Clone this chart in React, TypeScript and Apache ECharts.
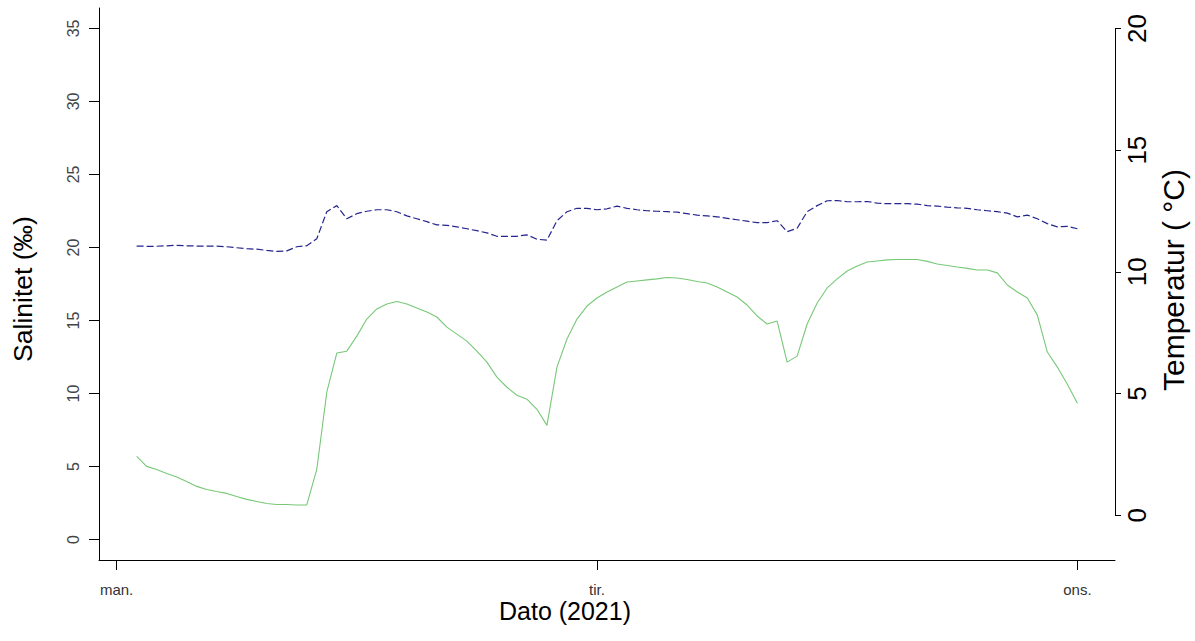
import React, { useEffect, useRef } from "react";
import * as echarts from "echarts";

// Time in hours since Monday 00:00 (half-hourly readings)
const timeHours = [
  1, 1.5, 2, 2.5, 3, 3.5, 4, 4.5, 5, 5.5, 6, 6.5, 7, 7.5, 8, 8.5, 9, 9.5, 10, 10.5,
  11, 11.5, 12, 12.5, 13, 13.5, 14, 14.5, 15, 15.5, 16, 16.5, 17, 17.5, 18, 18.5, 19, 19.5, 20, 20.5,
  21, 21.5, 22, 22.5, 23, 23.5, 24, 24.5, 25, 25.5, 26, 26.5, 27, 27.5, 28, 28.5, 29, 29.5, 30, 30.5,
  31, 31.5, 32, 32.5, 33, 33.5, 34, 34.5, 35, 35.5, 36, 36.5, 37, 37.5, 38, 38.5, 39, 39.5, 40, 40.5,
  41, 41.5, 42, 42.5, 43, 43.5, 44, 44.5, 45, 45.5, 46, 46.5, 47, 47.5, 48,
];

// Salinity (‰), left axis
const salinity = [
  5.7, 5.01, 4.8, 4.53, 4.29, 3.98, 3.64, 3.43, 3.29, 3.16, 2.95, 2.75, 2.61, 2.47, 2.4, 2.4, 2.37, 2.37,
  4.8, 10.09, 12.77, 12.9, 13.93, 15.1, 15.79, 16.13, 16.3, 16.13, 15.85, 15.58, 15.24, 14.55, 14.07, 13.59,
  12.9, 12.15, 11.12, 10.43, 9.88, 9.61, 8.92, 7.82,
  11.81, 13.73, 15.1, 15.99, 16.54, 16.95, 17.3, 17.64, 17.71, 17.78, 17.85, 17.95, 17.91, 17.81, 17.67,
  17.57, 17.3, 16.95, 16.61, 16.06, 15.31, 14.76, 14.96, 12.15,
  12.56, 14.76, 16.2, 17.23, 17.85, 18.39, 18.74, 19.01, 19.08, 19.15, 19.18, 19.18, 19.18, 19.05, 18.87,
  18.77, 18.66, 18.57, 18.46, 18.46, 18.26, 17.43, 16.95, 16.54, 15.37, 12.84, 11.81, 10.64, 9.33,
];

// Temperature (°C), right axis
const temperature = [
  11.06, 11.05, 11.05, 11.07, 11.09, 11.07, 11.06, 11.06, 11.06, 11.03, 10.99, 10.95, 10.93, 10.88, 10.84,
  10.86, 11.03, 11.07,
  11.36, 12.47, 12.72, 12.18, 12.39, 12.49, 12.55, 12.55, 12.47, 12.3, 12.18, 12.06, 11.93, 11.91, 11.85,
  11.77, 11.69, 11.6, 11.46, 11.46, 11.46, 11.52, 11.34, 11.3,
  12.1, 12.47, 12.61, 12.61, 12.55, 12.59, 12.7, 12.61, 12.55, 12.51, 12.49, 12.47, 12.45, 12.39, 12.33,
  12.3, 12.26, 12.2, 12.14, 12.08, 12.02, 12.02, 12.1, 11.65,
  11.79, 12.47, 12.72, 12.92, 12.93, 12.88, 12.88, 12.89, 12.82, 12.8, 12.8, 12.8, 12.78, 12.72, 12.7,
  12.66, 12.63, 12.61, 12.55, 12.51, 12.47, 12.41, 12.26, 12.33, 12.18, 11.98, 11.85, 11.87, 11.77,
];

const dayTicks = [0, 24, 48];
const dayLabels = ["man.", "tir.", "ons."];
const salTicks = [0, 5, 10, 15, 20, 25, 30, 35];
const tempTicks = [0, 5, 10, 15, 20];

const FONT = "'Liberation Sans', Arial, sans-serif";

export default function App() {
  const ref = useRef<HTMLDivElement>(null);
  useEffect(() => {
    document.body.style.margin = "0";
    if (!ref.current) return;
    const chart = echarts.init(ref.current, null, { renderer: "svg" });
    const salData = timeHours.map((t, i) => [t, salinity[i]]);
    const tempData = timeHours.map((t, i) => [t, temperature[i]]);
    const xMin = -0.88;
    const xMax = 49.88;
    chart.setOption({
      animation: false,
      backgroundColor: "#ffffff",
      textStyle: { fontFamily: FONT },
      grid: { left: 99, right: 80, top: 8, bottom: 81, containLabel: false },
      xAxis: {
        type: "value",
        min: xMin,
        max: xMax,
        axisLine: { show: true, onZero: false, lineStyle: { color: "#000", width: 1 } },
        axisTick: { show: true, inside: false, length: 10, customValues: dayTicks, lineStyle: { color: "#000" } },
        axisLabel: {
          customValues: dayTicks,
          formatter: (v: number) => dayLabels[dayTicks.indexOf(Math.round(v))] ?? "",
          color: "#333",
          fontSize: 15,
          lineHeight: 15,
          fontFamily: FONT,
          margin: 22,
        },
        splitLine: { show: false },
      },
      yAxis: [
        {
          type: "value",
          min: -1.4,
          max: 36.4,
          position: "left",
          axisLine: { show: true, onZero: false, lineStyle: { color: "#000", width: 1 } },
          axisTick: { show: true, inside: false, length: 10, customValues: salTicks, lineStyle: { color: "#000" } },
          axisLabel: {
            customValues: salTicks,
            rotate: 90,
            align: "center",
            verticalAlign: "bottom",
            color: "#444",
            fontSize: 16,
            fontFamily: FONT,
            margin: 18,
          },
          splitLine: { show: false },
        },
        {
          type: "value",
          min: -1.84,
          max: 20.84,
          position: "right",
          axisLine: { show: true, onZero: false, lineStyle: { color: "rgba(0,0,0,0)", width: 1 } },
          axisTick: { show: true, inside: false, length: 6, customValues: tempTicks, lineStyle: { color: "#000" } },
          axisLabel: {
            customValues: tempTicks,
            rotate: 90,
            align: "center",
            verticalAlign: "top",
            color: "#000",
            fontSize: 26,
            fontFamily: FONT,
            margin: 9,
          },
          splitLine: { show: false },
        },
      ],
      graphic: [
        {
          type: "text",
          x: 565,
          y: 611,
          style: {
            text: "Dato (2021)",
            fontSize: 25,
            lineHeight: 22,
            fontFamily: FONT,
            fill: "#000",
            align: "center",
            verticalAlign: "middle",
          },
        },
        {
          type: "text",
          x: 23,
          y: 289,
          rotation: Math.PI / 2,
          style: {
            text: "Salinitet (‰)",
            fontSize: 26.5,
            fontFamily: FONT,
            fill: "#000",
            align: "center",
            verticalAlign: "middle",
          },
        },
        {
          type: "text",
          x: 1173,
          y: 280,
          rotation: Math.PI / 2,
          style: {
            text: "Temperatur ( °C)",
            fontSize: 30,
            fontFamily: FONT,
            fill: "#000",
            align: "center",
            verticalAlign: "middle",
          },
        },
      ],
      series: [
        {
          name: "Salinitet",
          type: "line",
          yAxisIndex: 0,
          data: salData,
          showSymbol: false,
          symbol: "none",
          lineStyle: { color: "#78c878", width: 1.1 },
          silent: true,
        },
        {
          name: "Temperatur",
          type: "line",
          yAxisIndex: 1,
          data: tempData,
          showSymbol: false,
          symbol: "none",
          clip: false,
          lineStyle: { color: "#25258f", width: 1.2, type: [7, 3] },
          silent: true,
          markLine: {
            silent: true,
            symbol: ["none", "none"],
            label: { show: false },
            lineStyle: { color: "#000", width: 1, type: "solid" },
            data: [[{ coord: [xMax, 0] }, { coord: [xMax, 20] }]],
          },
        },
      ],
    });
    return () => chart.dispose();
  }, []);
  return <div ref={ref} style={{ width: 1195, height: 641 }} />;
}
